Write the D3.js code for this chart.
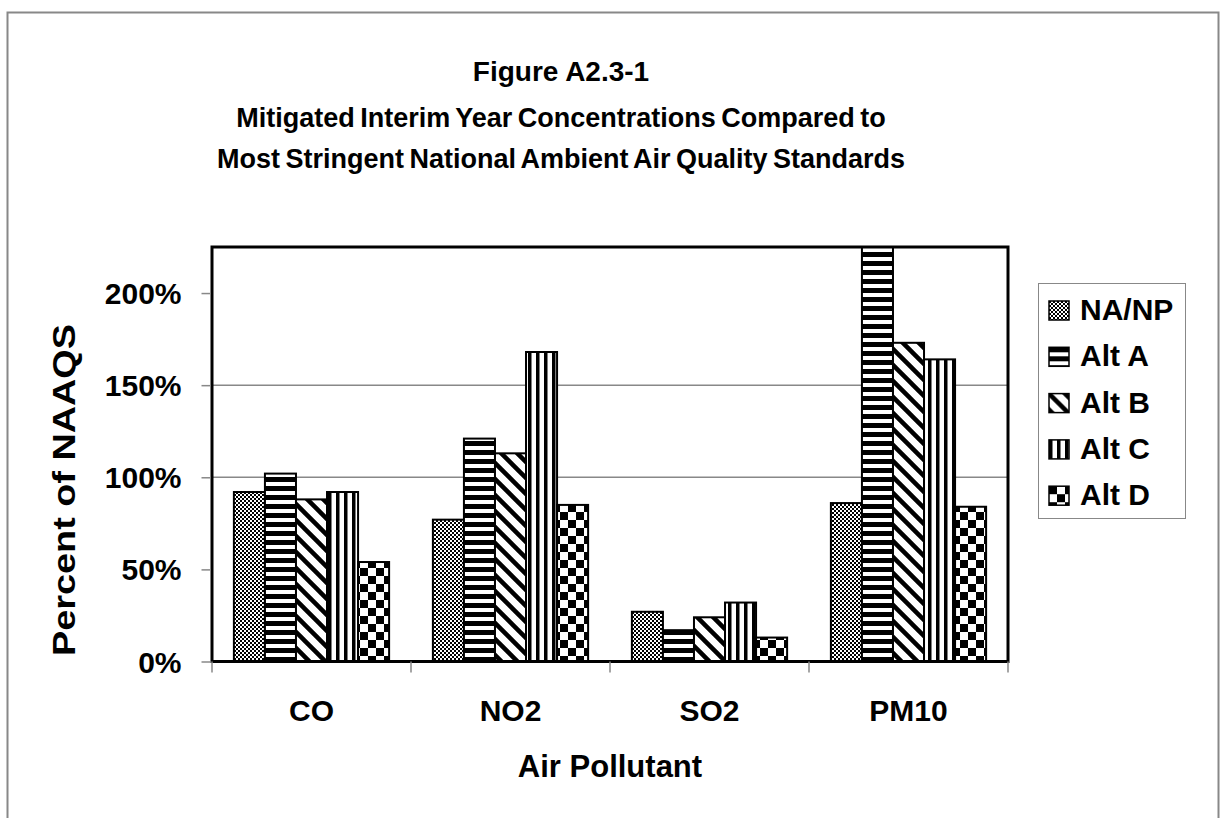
<!DOCTYPE html>
<html>
<head>
<meta charset="utf-8">
<script src="https://cdn.jsdelivr.net/npm/d3@7"></script>
<style>
  body { margin: 0; background: #fff; }
  text { font-family: Arial, "Liberation Sans", sans-serif; font-weight: bold; fill: #000; }
</style>
</head>
<body>
<svg id="chart" width="1228" height="818"></svg>
<script>
// data (percent of NAAQS)
var categories = ['CO', 'NO2', 'SO2', 'PM10'];
var seriesNames = ['NA/NP', 'Alt A', 'Alt B', 'Alt C', 'Alt D'];
var naNp = [92, 77, 27, 86];
var altA = [102, 121, 17, 225];
var altB = [88, 113, 24, 173];
var altC = [92, 168, 32, 164];
var altD = [54, 85, 13, 84];
var yTicks = [0, 50, 100, 150, 200];
var gridTicks = [100, 150];
var titleLines = ['Figure A2.3-1',
  'Mitigated Interim Year Concentrations Compared to',
  'Most Stringent National Ambient Air Quality Standards'];

var seriesValues = [naNp, altA, altB, altC, altD];
var patternIds = ['p-nanp', 'p-alta', 'p-altb', 'p-altc', 'p-altd'];

var svg = d3.select('#chart');
var plot = { left: 212, right: 1008, top: 247, bottom: 661.5 };

// outer frame
svg.append('rect')
  .attr('x', 7.5).attr('y', 12.5).attr('width', 1211).attr('height', 830)
  .attr('fill', 'none').attr('stroke', '#888').attr('stroke-width', 2);

// fill patterns
var defs = svg.append('defs');
function makePattern(id, w, h) {
  var p = defs.append('pattern').attr('id', id)
    .attr('patternUnits', 'userSpaceOnUse').attr('width', w).attr('height', h);
  p.append('rect').attr('width', w).attr('height', h).attr('fill', '#fff');
  return p;
}
var p1 = makePattern('p-nanp', 4, 4);
p1.append('rect').attr('x', 0).attr('y', 0).attr('width', 2).attr('height', 2).attr('fill', '#000');
p1.append('rect').attr('x', 2).attr('y', 2).attr('width', 2).attr('height', 2).attr('fill', '#000');
var p2 = makePattern('p-alta', 9, 9);
p2.append('rect').attr('width', 9).attr('height', 5).attr('fill', '#000');
var p3 = makePattern('p-altb', 16, 16);
p3.append('path').attr('d', 'M0,0L16,16M-8,8L8,24M8,-8L24,8')
  .attr('stroke', '#000').attr('stroke-width', 4.5);
var p4 = makePattern('p-altc', 8, 8);
p4.append('rect').attr('width', 3.5).attr('height', 8).attr('fill', '#000');
var p5 = makePattern('p-altd', 16, 16);
p5.append('rect').attr('width', 8).attr('height', 8).attr('fill', '#000');
p5.append('rect').attr('x', 8).attr('y', 8).attr('width', 8).attr('height', 8).attr('fill', '#000');

defs.append('clipPath').attr('id', 'plotClip')
  .append('rect').attr('x', plot.left).attr('y', plot.top)
  .attr('width', plot.right - plot.left).attr('height', plot.bottom - plot.top);

// scales
var x0 = d3.scaleBand().domain(categories).range([plot.left, plot.right]);
var groupW = x0.bandwidth() * 0.78;
var x1 = d3.scaleBand().domain(seriesNames).range([0, groupW]);
var y = d3.scaleLinear().domain([0, 225]).range([plot.bottom, plot.top]);

// gridlines
svg.append('g').selectAll('line').data(gridTicks).enter().append('line')
  .attr('x1', plot.left).attr('x2', plot.right)
  .attr('y1', function (d) { return y(d); }).attr('y2', function (d) { return y(d); })
  .attr('stroke', '#888').attr('stroke-width', 1.5);

// bars
var rows = [];
categories.forEach(function (c, ci) {
  seriesNames.forEach(function (s, si) {
    rows.push({ cat: c, ser: s, si: si, value: seriesValues[si][ci] });
  });
});
svg.append('g').attr('clip-path', 'url(#plotClip)')
  .selectAll('rect').data(rows).enter().append('rect')
  .attr('x', function (d) { return x0(d.cat) + (x0.bandwidth() - groupW) / 2 + x1(d.ser); })
  .attr('y', function (d) { return y(d.value); })
  .attr('width', x1.bandwidth())
  .attr('height', function (d) { return y(0) - y(d.value); })
  .attr('fill', function (d) { return 'url(#' + patternIds[d.si] + ')'; })
  .attr('stroke', '#000').attr('stroke-width', 2);

// plot border
svg.append('rect')
  .attr('x', plot.left).attr('y', plot.top)
  .attr('width', plot.right - plot.left).attr('height', plot.bottom - plot.top)
  .attr('fill', 'none').attr('stroke', '#000').attr('stroke-width', 3);

// y axis
var yAxis = svg.append('g').attr('transform', 'translate(' + (plot.left - 1.5) + ',0)')
  .call(d3.axisLeft(y).tickValues(yTicks).tickSize(9).tickPadding(20)
    .tickFormat(function (d) { return d + '%'; }));
yAxis.select('.domain').remove();
yAxis.selectAll('line').attr('stroke', '#888').attr('stroke-width', 1.5);
yAxis.selectAll('text').attr('font-size', 30).attr('dy', '0.35em');

// x axis: labels at centres, ticks at band edges
var xAxis = svg.append('g').attr('transform', 'translate(0,' + plot.bottom + ')')
  .call(d3.axisBottom(x0).tickSize(0).tickPadding(59));
xAxis.select('.domain').remove();
xAxis.selectAll('text').attr('font-size', 30).attr('dy', 0);
var edges = categories.map(function (c) { return x0(c); }).concat([plot.right]);
svg.append('g').selectAll('line').data(edges).enter().append('line')
  .attr('x1', function (d) { return d; }).attr('x2', function (d) { return d; })
  .attr('y1', plot.bottom).attr('y2', plot.bottom + 11)
  .attr('stroke', '#888').attr('stroke-width', 1.5);

// axis titles
svg.append('text').attr('x', (plot.left + plot.right) / 2).attr('y', 777)
  .attr('text-anchor', 'middle').attr('font-size', 31).text('Air Pollutant');
svg.append('text').attr('transform', 'translate(75,490) rotate(-90)')
  .attr('text-anchor', 'middle').attr('font-size', 31)
  .attr('textLength', 332).attr('lengthAdjust', 'spacingAndGlyphs')
  .text('Percent of NAAQS');

// title
var titleY = [81, 127, 168];
var titleSize = [28, 27, 27];
svg.append('g').selectAll('text').data(titleLines).enter().append('text')
  .attr('x', 561).attr('y', function (d, i) { return titleY[i]; })
  .attr('text-anchor', 'middle').attr('font-size', function (d, i) { return titleSize[i]; })
  .attr('word-spacing', function (d, i) { return i ? -2 : 0; })
  .text(function (d) { return d; });

// legend
var legend = svg.append('g');
legend.append('rect').attr('x', 1038.5).attr('y', 283.5).attr('width', 147).attr('height', 235)
  .attr('fill', '#fff').attr('stroke', '#888').attr('stroke-width', 1);
var item = legend.selectAll('g.item').data(seriesNames).enter().append('g')
  .attr('class', 'item')
  .attr('transform', function (d, i) { return 'translate(1049,' + (301 + i * 46.3) + ')'; });
item.append('rect').attr('width', 20).attr('height', 19)
  .attr('fill', function (d, i) { return 'url(#' + patternIds[i] + ')'; })
  .attr('stroke', '#000').attr('stroke-width', 1.5);
item.append('text').attr('x', 31).attr('y', 19).attr('font-size', 30)
  .text(function (d) { return d; });
</script>
</body>
</html>
